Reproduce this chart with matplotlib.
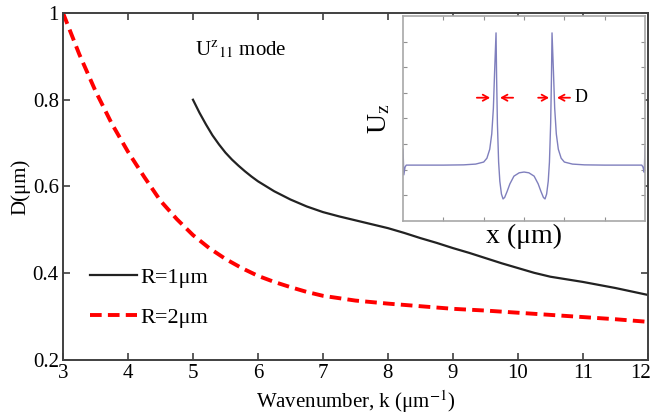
"""D vs wavenumber for the U^z_11 mode, with mode-profile inset."""
import matplotlib
matplotlib.use("Agg")
import matplotlib.pyplot as plt
import matplotlib.transforms as mtransforms

plt.rcParams["font.family"] = ["Liberation Serif", "DejaVu Serif"]
plt.rcParams["mathtext.fontset"] = "stix"

# main curves
k_r1 = [5.0, 5.1, 5.2, 5.3, 5.4, 5.5, 5.6, 5.7, 5.8, 5.9, 6.0, 6.25, 6.5,
        6.75, 7.0, 7.25, 7.5, 7.75, 8.0, 8.25, 8.5, 8.75, 9.0, 9.25, 9.5,
        9.75, 10.0, 10.25, 10.5, 10.75, 11.0, 11.25, 11.5, 11.75, 12.0]
d_r1 = [0.800, 0.770, 0.743, 0.718, 0.697, 0.678, 0.662, 0.648, 0.635,
        0.623, 0.612, 0.589, 0.570, 0.554, 0.541, 0.531, 0.522, 0.513,
        0.504, 0.493, 0.481, 0.470, 0.458, 0.447, 0.435, 0.423, 0.412,
        0.401, 0.392, 0.386, 0.380, 0.373, 0.366, 0.358, 0.350]

k_r2 = [3.0, 3.25, 3.5, 3.75, 4.0, 4.25, 4.5, 4.75, 5.0, 5.25, 5.5, 5.75,
        6.0, 6.25, 6.5, 6.75, 7.0, 7.5, 8.0, 8.5, 9.0, 9.5, 10.0, 10.5,
        11.0, 11.5, 12.0]
d_r2 = [1.0, 0.905, 0.82, 0.745, 0.68, 0.622, 0.567, 0.525, 0.488, 0.458,
        0.433, 0.412, 0.394, 0.380, 0.368, 0.357, 0.348, 0.337, 0.330,
        0.324, 0.318, 0.314, 0.309, 0.304, 0.299, 0.294, 0.288]

x_ticks = list(range(3, 13))
y_ticks = [0.2, 0.4, 0.6, 0.8, 1.0]
y_ticklabels = ["0.2", "0.4", "0.6", "0.8", "1"]

# inset mode profile (arbitrary units)
ins_x = [-3.0, -2.98, -2.95, -2.92, -2.5, -2.0, -1.5, -1.2, -1.0, -0.92,
         -0.85, -0.80, -0.76, -0.73, -0.694, -0.68, -0.66, -0.63, -0.60,
         -0.56, -0.52, -0.48, -0.42, -0.35, -0.25, -0.12, 0.0,
         0.12, 0.25, 0.35, 0.42, 0.48, 0.52, 0.56, 0.60, 0.63, 0.66, 0.68,
         0.694, 0.73, 0.76, 0.80, 0.85, 0.92, 1.0, 1.2, 1.5, 2.0, 2.5,
         2.92, 2.95, 2.98, 3.0]
ins_u = [2.8, 1.8, 2.1, 2.18, 2.18, 2.18, 2.19, 2.22, 2.30, 2.45,
         2.8, 3.4, 4.4, 5.8, 7.34, 5.6, 3.8, 2.3, 1.55,
         1.05, 0.86, 0.92, 1.15, 1.45, 1.75, 1.88, 1.91,
         1.88, 1.75, 1.45, 1.15, 0.92, 0.86, 1.05, 1.55, 2.3, 3.8, 5.6,
         7.34, 5.8, 4.4, 3.4, 2.8, 2.45, 2.30, 2.22, 2.19, 2.18, 2.18,
         2.18, 2.1, 1.9, 2.9]

# FWHM arrow pairs: (tail, head) in inset x
arrow_pairs = [(-1.17, -0.84), (-0.27, -0.595), (0.35, 0.62), (1.14, 0.82)]
arrow_level = 4.81


def main():
    fig = plt.figure(figsize=(6.55, 4.16), dpi=100)
    ax = fig.add_axes([0.0962, 0.1346, 0.8929, 0.8342])

    ax.plot(k_r1, d_r1, color="#222222", lw=1.6, label="R=1μm")
    ax.plot(k_r2, d_r2, color="#ff0000", lw=2.8, linestyle=(0, (3, 1.6)),
            label="R=2μm")

    ax.set_xlim(3, 12)
    ax.set_ylim(0.2, 1.0)
    ax.set_xticks(x_ticks)
    ax.set_yticks(y_ticks)
    ax.set_yticklabels(y_ticklabels)
    ax.tick_params(direction="in", top=True, right=True, labelsize=15,
                   length=5, width=1.2, color="#404040", pad=3)
    for s in ax.spines.values():
        s.set_color("#404040")
        s.set_linewidth(1.4)

    # last x tick label sits at the right edge; nudge it in a little
    last = ax.get_xticklabels()[-1]
    last.set_transform(last.get_transform() +
                       mtransforms.ScaledTranslation(-5 / 72, 0, fig.dpi_scale_trans))

    ax.set_xlabel("Wavenumber, k (μm$^{-1}$)", fontsize=15, labelpad=4)
    ax.set_ylabel("D(μm)", fontsize=15, labelpad=2)
    ax.text(5.03, 0.915, r"U$^{\mathrm{z}}$$_{11}$ mode", fontsize=15,
            va="center")

    ax.legend(loc="center left", bbox_to_anchor=(0.046, 0.18), frameon=False,
              fontsize=16, handlelength=2.1, handletextpad=0.15,
              borderpad=0, borderaxespad=0, labelspacing=0.85)

    # inset
    ins = fig.add_axes([0.6153, 0.4688, 0.3695, 0.4928])
    ins.set_facecolor("white")
    ins.plot(ins_x, ins_u, color="#7f7fbd", lw=1.0)
    ins.set_xlim(-3, 3)
    ins.set_ylim(0, 8)
    ins.set_xticks([-2, -1, 0, 1, 2])
    ins.set_yticks(range(1, 8))
    ins.tick_params(direction="in", top=True, right=True, length=3,
                    width=0.8, color="#909090",
                    labelbottom=False, labelleft=False)
    for s in ins.spines.values():
        s.set_color("#a8a8a8")
        s.set_linewidth(1.2)
    ins.set_xlabel("x (μm)", fontsize=20, labelpad=2)
    ins.set_ylabel(r"U$_{\mathrm{z}}$", fontsize=20, labelpad=8)

    for tail, head in arrow_pairs:
        ins.annotate("", xy=(head, arrow_level), xytext=(tail, arrow_level),
                     arrowprops=dict(arrowstyle="->,head_width=0.22,head_length=0.4",
                                     color="red", lw=1.3, shrinkA=0, shrinkB=0))
    ins.text(1.26, arrow_level, "D", fontsize=13, va="center")

    fig.savefig("out.png", dpi=100)
    plt.close(fig)


if __name__ == "__main__":
    main()
